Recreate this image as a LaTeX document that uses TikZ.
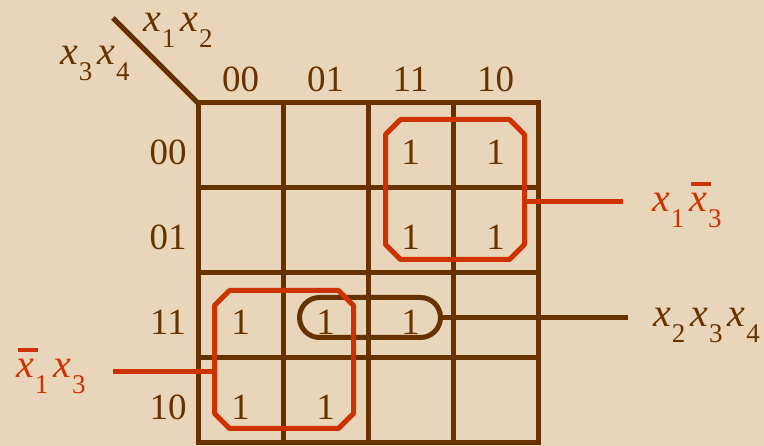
\documentclass[tikz,border=0pt]{standalone}
\usepackage{fontspec}
\setmainfont{Liberation Serif}
\usetikzlibrary{positioning, shapes.misc}

\definecolor{kbrown}{RGB}{102,51,0}
\definecolor{kred}{RGB}{204,51,0}
\definecolor{kbg}{RGB}{233,214,186}

% variable with subscript, and the same with a bar
\newcommand{\xv}[1]{{\fontsize{40}{40}\selectfont\textit{x}}\kern1pt\raisebox{-16pt}{\fontsize{27}{27}\selectfont #1}}
\newcommand{\xn}[1]{\rlap{\kern2pt\rule[26pt]{20pt}{4pt}}\xv{#1}}

\begin{document}
\begin{tikzpicture}[
        x=1pt,
        y=-1pt,
        font=\fontsize{37}{40}\selectfont,
        cell/.style={
            rectangle,
            draw=kbrown,
            line width=5pt,
            minimum width=85pt,
            minimum height=85pt,
            inner sep=0pt,
            outer sep=0pt
        },
        val/.style={
            anchor=base,
            inner sep=0pt,
            text=kbrown
        },
        lab/.style={
            anchor=base west,
            inner sep=0pt
        },
        grp/.style={
            rectangle,
            inner sep=0pt,
            outer sep=0pt,
            minimum width=139pt,
            minimum height=140pt
        },
        pill/.style={
            rounded rectangle,
            draw=kbrown,
            line width=5pt,
            inner sep=0pt,
            outer sep=0pt,
            minimum width=141pt,
            minimum height=40pt
        },
        redline/.style={draw=kred, line width=5pt, line join=round},
        brownline/.style={draw=kbrown, line width=5pt}
        ]

        % Background
        \fill[kbg] (0,0) rectangle (764,446);

        % Map cells
        \foreach \r in {0,...,3}
            \foreach \c in {0,...,3}
                \node[cell] (c-\r-\c) at ({240.5+85*\c},{145.5+85*\r}) {};

        % Column and row headings
        \foreach \lab [count=\i from 0] in {00,01,11,10}
            \node[val] (col-\i) at ({240.5+85*\i},92) {\lab};
        \foreach \lab [count=\i from 0] in {00,01,11,10}
            \node[val] (row-\i) at (168,{165+85*\i}) {\lab};

        % Corner
        \coordinate (diagtip) at (113,18);
        \draw[brownline] (diagtip) -- (c-0-0.north west);
        \node[lab, text=kbrown] (toplab) at (143,32) {\xv{1}\kern5pt\xv{2}};
        \node[lab, text=kbrown] (sidelab) at (60,65) {\xv{3}\kern5pt\xv{4}};

        % Ones
        \foreach \r/\c in {0/2,0/3,1/2,1/3,2/0,2/1,2/2,3/0,3/1}
            \node[val] (v-\r-\c) at ([yshift=-19.5pt]c-\r-\c.center) {1};

        % Groups
        \node[pill] (grpc) at (370,317.5) {};
        \node[grp] (grpa) at (455,189.5) {};
        \node[grp, minimum height=138pt] (grpb) at (284,359.5) {};
        \foreach \g in {grpa,grpb}
            \draw[redline] ([xshift=15pt]\g.north west) -- ([xshift=-15pt]\g.north east)
                -- ([yshift=-15pt]\g.north east) -- ([yshift=15pt]\g.south east)
                -- ([xshift=-15pt]\g.south east) -- ([xshift=15pt]\g.south west)
                -- ([yshift=15pt]\g.south west) -- ([yshift=-15pt]\g.north west) -- cycle;

        % Group lines and terms
        \coordinate (tipa) at (623,202);
        \coordinate (tipb) at (113,372);
        \coordinate (tipc) at (628,317.5);
        \draw[redline] (grpa.east |- tipa) -- (tipa);
        \draw[redline] (tipb) -- (tipb -| grpb.west);
        \draw[brownline] (grpc.east) -- (tipc);

        \node[lab, text=kred] (laba) at (652,212) {\xv{1}\kern5pt\xn{3}};
        \node[lab, text=kbrown] (labc) at (653,327) {\xv{2}\kern5pt\xv{3}\kern5pt\xv{4}};
        \node[lab, text=kred] (labb) at (16,378) {\xn{1}\kern5pt\xv{3}};

    \end{tikzpicture}
\end{document}
